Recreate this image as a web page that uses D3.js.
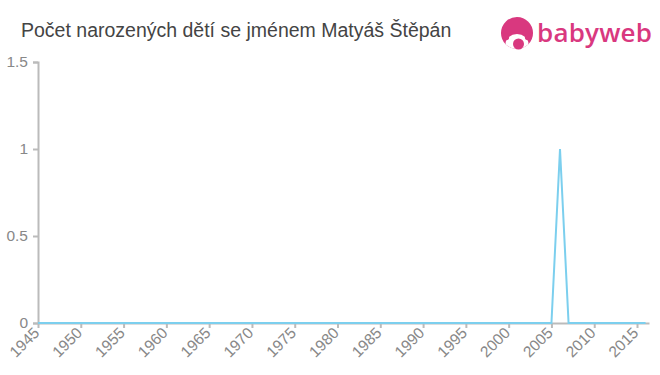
<!DOCTYPE html>
<html>
<head>
<meta charset="utf-8">
<script src="https://cdn.jsdelivr.net/npm/d3@7"></script>
<style>
  body { margin: 0; background: #fff; }
  svg { display: block; font-family: "Liberation Sans", Arial, sans-serif; }
</style>
</head>
<body>
<div id="chart"></div>
<script>
const width = 660;
const height = 375;

const title = "Počet narozených dětí se jménem Matyáš Štěpán";
const years = d3.range(1945, 2017);
// jediný nenulový rok: 2006
const counts = years.map(y => (y === 2006 ? 1 : 0));
const xTicks = d3.range(1945, 2020, 5);
const yTicks = [0, 0.5, 1, 1.5];

const margin = { top: 62, right: 11, bottom: 52, left: 38 };

const svg = d3.select("#chart").append("svg")
  .attr("width", width)
  .attr("height", height);

const x = d3.scaleLinear()
  .domain([1945, 2016.4])
  .range([margin.left, width - margin.right]);

const y = d3.scaleLinear()
  .domain([0, 1.5])
  .range([height - margin.bottom, margin.top]);

// title
svg.append("text")
  .attr("x", 21)
  .attr("y", 37)
  .attr("fill", "#444")
  .style("font-size", "19.5px")
  .text(title);

// logo
const logo = svg.append("g").attr("transform", "translate(517,33)");
logo.append("defs").append("clipPath").attr("id", "logo-clip")
  .append("circle").attr("r", 16);
logo.append("circle").attr("r", 16).attr("fill", "#d9387f");
logo.append("ellipse")
  .attr("cx", 0).attr("cy", 11).attr("rx", 11.5).attr("ry", 10)
  .attr("clip-path", "url(#logo-clip)")
  .attr("fill", "#fff");
logo.append("circle").attr("cx", -11).attr("cy", 4).attr("r", 3.2).attr("fill", "#d9387f");
logo.append("circle").attr("cx", 11).attr("cy", 4).attr("r", 3.2).attr("fill", "#d9387f");
logo.append("circle").attr("cx", 1.5).attr("cy", 11).attr("r", 5.5).attr("fill", "#d9387f");
svg.append("text")
  .attr("x", 537)
  .attr("y", 42)
  .attr("fill", "#d9387f")
  .attr("textLength", 115)
  .style("font-size", "26px")
  .style("font-family", "'Open Sans', sans-serif")
  .style("font-weight", "600")
  .text("babyweb");

// axes
const axisColor = "#bbb";
const labelColor = "#888";

const xAxis = svg.append("g")
  .attr("transform", `translate(0,${height - margin.bottom})`)
  .call(d3.axisBottom(x).tickValues(xTicks).tickFormat(d3.format("d")).tickSize(5).tickSizeOuter(0))
  .attr("font-size", 15.5)
  .attr("font-family", "Liberation Sans, Arial, sans-serif");
xAxis.select(".domain").attr("stroke", axisColor).attr("stroke-width", 2);
xAxis.selectAll(".tick line").attr("stroke", axisColor).attr("stroke-width", 2);
xAxis.selectAll(".tick text")
  .attr("fill", labelColor)
  .attr("text-anchor", "end")
  .attr("x", 0)
  .attr("y", 0)
  .attr("dy", "0.35em")
  .attr("transform", "translate(-2,7) rotate(-45)");

const yAxis = svg.append("g")
  .attr("transform", `translate(${margin.left},0)`)
  .call(d3.axisLeft(y).tickValues(yTicks).tickFormat(d => d).tickSize(5).tickSizeOuter(5).tickPadding(5))
  .attr("font-size", 15.5)
  .attr("font-family", "Liberation Sans, Arial, sans-serif");
yAxis.select(".domain").attr("stroke", axisColor).attr("stroke-width", 2);
yAxis.selectAll(".tick line").attr("stroke", axisColor).attr("stroke-width", 2);
yAxis.selectAll(".tick text").attr("fill", labelColor);

// line
const line = d3.line()
  .x((d, i) => x(years[i]))
  .y(d => y(d));

svg.append("path")
  .datum(counts)
  .attr("fill", "none")
  .attr("stroke", "#7ccfee")
  .attr("stroke-width", 2)
  .attr("d", line);
</script>
</body>
</html>
